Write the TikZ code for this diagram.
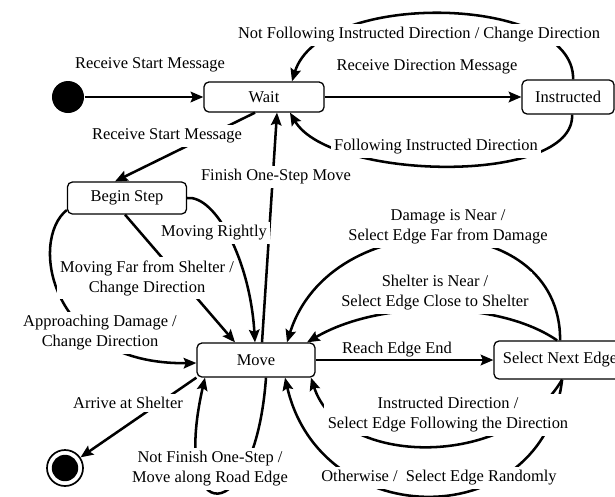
\documentclass[tikz,border=0pt]{standalone}
\usepackage{fontspec}
\setmainfont{Liberation Serif}
\usepackage{tikz}
\usetikzlibrary{arrows.meta, positioning, calc}

\begin{document}
\begin{tikzpicture}[x=0.025cm, y=-0.025cm, node distance=7.6cm, thick]
    \tikzstyle{state} = [rectangle, draw, fill=white, rounded corners=3.5pt, line width=0.9pt, text centered, font=\fontsize{11.7}{14.2}\selectfont]
    \tikzstyle{guard} = [fill=white, inner sep=2.5pt, align=center, font=\fontsize{11.7}{14.2}\selectfont]
    \tikzstyle{trans} = [draw, -{Stealth[length=9pt, width=7.5pt, inset=1.5pt]}, line width=1.8pt]
    \tikzstyle{startdot} = [circle, fill=black, minimum size=0.8cm, inner sep=0pt]
    \tikzstyle{enddot} = [circle, draw, line width=1.2pt, minimum size=0.9cm, inner sep=0pt, path picture={\fill (path picture bounding box.center) circle (0.33cm);}]

    \useasboundingbox (0,0) rectangle (615,496);

    \node [startdot] (start) at (68,97) {};
    \node [state, minimum width=3cm, minimum height=0.75cm] (wait) at (264,97) {Wait};
    \node [state, right of=wait, minimum width=2.3cm, minimum height=0.85cm] (instr) {Instructed};
    \node [state, minimum width=2.975cm, minimum height=0.8cm] (begin) at (127,198) {Begin Step};
    \node [state, minimum width=2.95cm, minimum height=0.85cm] (move) at (256,360) {Move};
    \node [state, right of=move, minimum width=3.3cm, minimum height=0.95cm] (select) {Select Next Edge};
    \node [enddot] (end) at (65,468) {};

    % transitions of the waiting part
    \path [trans] (start) -- (wait);
    \path [trans] (wait) -- (instr);
    \path [trans] ($(instr.north)+(5,0)$) .. controls +(2,-85) and +(28,-92) .. ($(wait.north)+(28,0)$);
    \path [trans] ($(instr.south)+(4,0)$) .. controls +(3,71) and +(40,68) .. ($(wait.south)+(26,0)$);
    \path [trans] ($(wait.south)+(-9,0)$) -- ($(begin.north)+(-12,0)$);
    \path [trans] ($(move.north)+(6,0)$) -- ($(wait.south)+(13,0)$);

    % transitions of one step
    \path [trans] (begin.east) .. controls +(28,-3) and +(-5,-83) .. ($(move.north)+(-1,0)$);
    \path [trans] ($(begin.south)+(-2,0)$) -- ($(move.north)+(-21,0)$);
    \path [trans] ($(begin.west)+(0,12)$) .. controls +(-38,30) and +(-147,2) .. ($(move.west)+(0,3)$);
    \path [trans] (move.south west) -- (end);
    \path [trans] ($(move.south)+(10,0)$) .. controls +(-11,153) and +(-35,153) .. ($(move.south)+(-51,0)$);
    \path [trans] (move) -- (select);

    % edge selection loops back to Move
    \path [trans] (select.north) .. controls +(1,-135) and +(43,-138) .. ($(move.north)+(31,0)$);
    \path [trans] ($(select.north)+(-3,0)$) .. controls +(-58,-40) and +(73,-43) .. ($(move.north)+(51,0)$);
    \path [trans] ($(select.south)+(2,0)$) .. controls +(-53,90) and +(29,90) .. ($(move.south)+(55,0)$);
    \path [trans] ($(select.south)+(2,0)$) .. controls +(-18,156) and +(36,156) .. ($(move.south)+(29,0)$);

    % guards, drawn last so they break the lines
    \node [guard] (recvstart) at (150,65) {Receive Start Message};
    \node [guard] (recvdir) at (427,67) {Receive Direction Message};
    \node [guard] (notfollow) at (419,35) {Not Following Instructed Direction / Change Direction};
    \node [guard] (follow) at (436,147) {Following Instructed Direction};
    \node [guard] (recvstart2) at (167,136) {Receive Start Message};
    \node [guard] (finish) at (276,177) {Finish One-Step Move};
    \node [guard] (rightly) at (214,233) {Moving Rightly};
    \node [guard] (farshelter) at (147,278) {Moving Far from Shelter /\\ Change Direction};
    \node [guard] (approach) at (100,333) {Approaching Damage /\\ Change Direction};
    \node [guard] (arrive) at (128,403) {Arrive at Shelter};
    \node [guard] (notfinish) at (210,469) {Not Finish One-Step /\\ Move along Road Edge};
    \node [guard, fill=none] (reachend) at (397,350) {Reach Edge End};
    \node [guard] (damage) at (448,227) {Damage is Near /\\ Select Edge Far from Damage};
    \node [guard] (shelter) at (435,293) {Shelter is Near /\\ Select Edge Close to Shelter};
    \node [guard] (instructed) at (448,415) {Instructed Direction /\\ Select Edge Following the Direction};
    \node [guard] (otherwise) at (439,478) {Otherwise /\ \ Select Edge Randomly};
\end{tikzpicture}
\end{document}
